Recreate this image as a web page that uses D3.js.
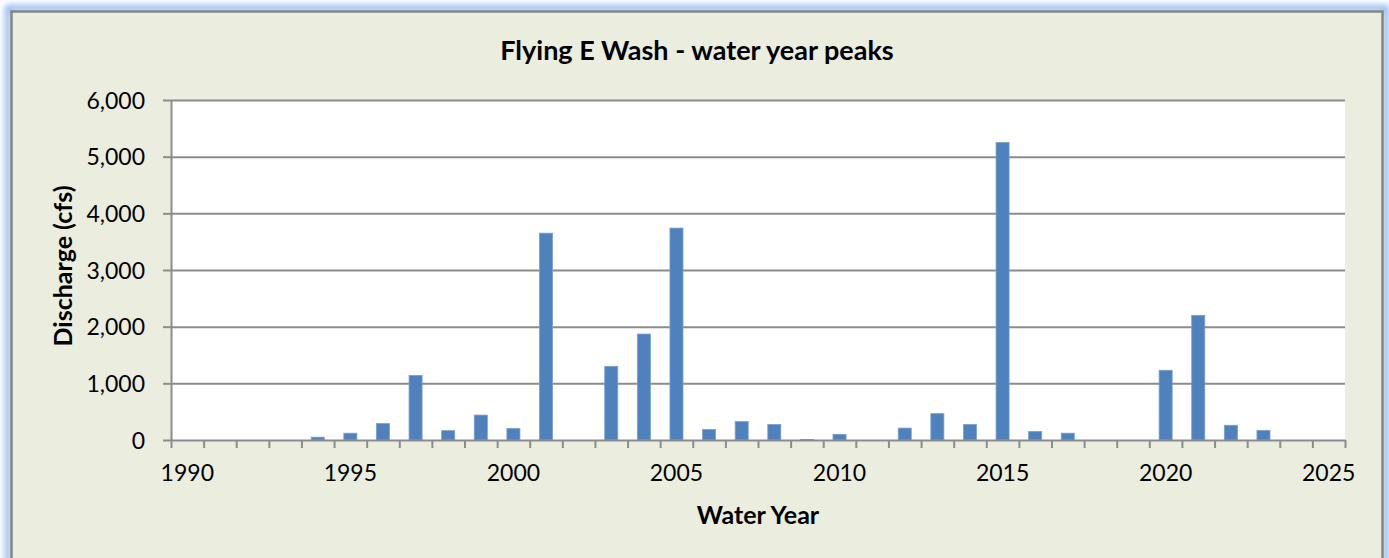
<!DOCTYPE html>
<html>
<head>
<meta charset="utf-8">
<script src="https://cdn.jsdelivr.net/npm/d3@7"></script>
<style>
  html, body { margin: 0; padding: 0; background: #ffffff; }
  svg { display: block; }
  text { font-family: Lato, "Noto Sans", sans-serif; fill: #000; }
</style>
</head>
<body>
<svg id="chart" width="1389" height="558"></svg>
<script>
const chartTitle = "Flying E Wash - water year peaks";
const xAxisTitle = "Water Year";
const yAxisTitle = "Discharge (cfs)";

const waterYears = [1994, 1995, 1996, 1997, 1998, 1999, 2000, 2001, 2003, 2004, 2005, 2006, 2007, 2008, 2009, 2010, 2012, 2013, 2014, 2015, 2016, 2017, 2020, 2021, 2022, 2023];
const peakDischarge = [50, 120, 290, 1140, 165, 440, 205, 3650, 1300, 1870, 3740, 185, 325, 275, 10, 100, 210, 465, 275, 5250, 150, 120, 1230, 2200, 260, 170];

const xFirstYear = 1990;
const xLastYear = 2025;
const xTickLabels = [1990, 1995, 2000, 2005, 2010, 2015, 2020, 2025];
const yTickValues = [0, 1000, 2000, 3000, 4000, 5000, 6000];

const svg = d3.select("#chart");

// glow + frame
const defs = svg.append("defs");
const f = defs.append("filter").attr("id", "glow").attr("x", "-5%").attr("y", "-5%").attr("width", "110%").attr("height", "110%");
f.append("feGaussianBlur").attr("stdDeviation", 3);

svg.append("rect").attr("x", 8).attr("y", 8).attr("width", 1378).attr("height", 580)
  .attr("fill", "none").attr("stroke", "#8db6ee").attr("stroke-width", 6).attr("filter", "url(#glow)");
svg.append("rect").attr("x", 11.5).attr("y", 11.5).attr("width", 1371).attr("height", 580)
  .attr("fill", "#ebeedf").attr("stroke", "#858585").attr("stroke-width", 2.5);

const plot = { left: 171, right: 1345, top: 100, bottom: 440 };

const allYears = d3.range(xFirstYear, xLastYear + 1);
const x = d3.scaleBand().domain(allYears).range([plot.left, plot.right]).paddingInner(0.6).paddingOuter(0.3);
const xEdges = d3.scaleLinear().domain([xFirstYear, xLastYear + 1]).range([plot.left, plot.right]);
const y = d3.scaleLinear().domain([0, 6000]).range([plot.bottom, plot.top]);

// plot area
svg.append("rect").attr("x", plot.left).attr("y", plot.top)
  .attr("width", plot.right - plot.left).attr("height", plot.bottom - plot.top).attr("fill", "#ffffff");

// gridlines
const grid = svg.append("g").attr("transform", `translate(${plot.left},0)`)
  .call(d3.axisLeft(y).tickValues(yTickValues.filter(v => v > 0)).tickSize(-(plot.right - plot.left)).tickFormat(""));
grid.select(".domain").remove();
grid.selectAll("line").attr("stroke", "#8c8c8c").attr("stroke-width", 2);

// bars
svg.append("g").selectAll("rect").data(waterYears).join("rect")
  .attr("x", d => x(d))
  .attr("width", x.bandwidth())
  .attr("y", (d, i) => y(peakDischarge[i]))
  .attr("height", (d, i) => y(0) - y(peakDischarge[i]))
  .attr("fill", "#4f81bd")
  .attr("stroke", "#7a9fd0").attr("stroke-width", 0.8);

// y axis
const yAx = svg.append("g").attr("transform", `translate(${plot.left},0)`)
  .call(d3.axisLeft(y).tickValues(yTickValues).tickFormat(d3.format(",")).tickSize(8).tickSizeOuter(0).tickPadding(18));
yAx.select(".domain").attr("stroke", "#8c8c8c").attr("stroke-width", 2);
yAx.selectAll("line").attr("stroke", "#8c8c8c").attr("stroke-width", 2);
yAx.selectAll("text").attr("font-size", 23).attr("font-family", "Lato").attr("dy", "0.35em");

// x axis ticks at year boundaries
const xAx = svg.append("g").attr("transform", `translate(0,${plot.bottom})`)
  .call(d3.axisBottom(xEdges).tickValues(d3.range(xFirstYear, xLastYear + 2)).tickSize(8).tickSizeOuter(0).tickFormat(""));
xAx.select(".domain").attr("stroke", "#8c8c8c").attr("stroke-width", 2);
xAx.selectAll("line").attr("stroke", "#8c8c8c").attr("stroke-width", 2);

// x labels centred in bands
const xLab = svg.append("g").attr("transform", `translate(0,${plot.bottom})`)
  .call(d3.axisBottom(x).tickValues(xTickLabels).tickSize(0).tickPadding(25));
xLab.select(".domain").remove();
xLab.selectAll("text").attr("font-size", 23).attr("font-family", "Lato").attr("dy", "0.71em");

// titles
svg.append("text").attr("x", 697).attr("y", 60).attr("text-anchor", "middle")
  .attr("font-size", 27).attr("font-weight", "bold").text(chartTitle);
svg.append("text").attr("x", 758).attr("y", 524).attr("text-anchor", "middle")
  .attr("font-size", 25).attr("font-weight", "bold").text(xAxisTitle);
svg.append("text").attr("transform", `translate(72,266) rotate(-90)`).attr("text-anchor", "middle")
  .attr("font-size", 25).attr("font-weight", "bold").text(yAxisTitle);
</script>
</body>
</html>
